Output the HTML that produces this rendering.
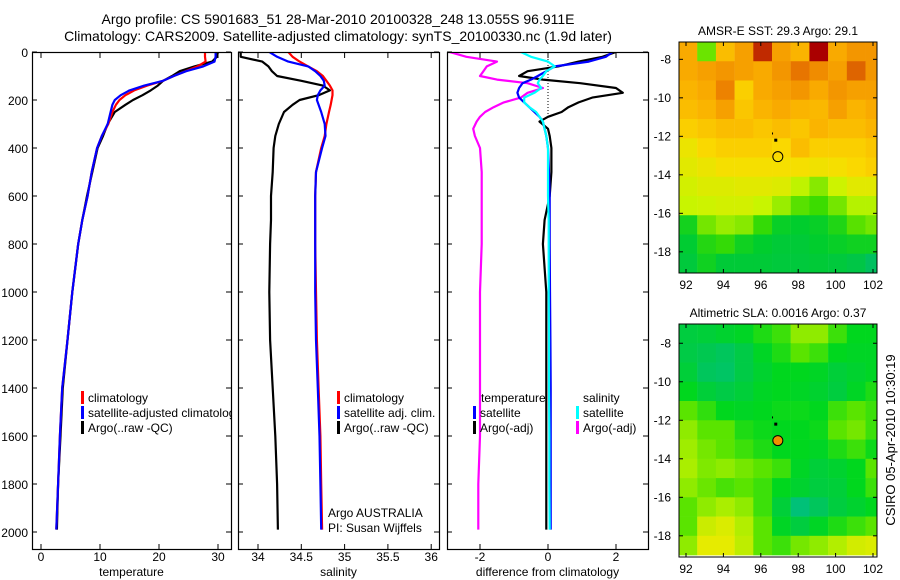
<!DOCTYPE html>
<html><head><meta charset="utf-8"><style>
html,body{margin:0;padding:0;background:#fff;}
svg{display:block;font-family:"Liberation Sans",sans-serif;}
</style></head><body>
<svg id="fig" width="900" height="580" viewBox="0 0 900 580">
<text x="338" y="24" font-size="14" text-anchor="middle">Argo profile: CS 5901683_51 28-Mar-2010 20100328_248 13.055S 96.911E</text>
<text x="338" y="41" font-size="14" text-anchor="middle">Climatology: CARS2009. Satellite-adjusted climatology: synTS_20100330.nc (1.9d later)</text>
<defs>
<clipPath id="c1"><rect x="33" y="53" width="198" height="496"/></clipPath>
<clipPath id="c2"><rect x="239" y="53" width="200" height="496"/></clipPath>
<clipPath id="c3"><rect x="448" y="53" width="200" height="496"/></clipPath>
<clipPath id="m1"><rect x="679" y="42" width="198" height="231"/></clipPath>
<clipPath id="m2"><rect x="679" y="324" width="198" height="233"/></clipPath>
</defs>
<g id="g1"></g>
<g id="g2"></g>
<g id="g3"></g>
<g id="gm1"></g>
<g id="gm2"></g>
<text x="895" y="440" font-size="13" text-anchor="middle" transform="rotate(-90 895 440)">CSIRO 05-Apr-2010 10:30:19</text>
</svg>
<script>
// ---- profile data ----
const depthT = [0,20,40,60,80,100,120,140,160,180,200,220,250,300,350,400,500,600,700,800,1000,1200,1400,1600,1800,1990];
const tempClim = [27.8,27.8,27.9,26.5,24.5,22.5,20.7,18.0,15.8,14.3,13.3,12.7,12.1,11.4,10.3,9.5,8.6,7.9,7.0,6.3,5.3,4.5,3.6,3.2,2.9,2.6];
const tempSat = [29.6,29.6,29.4,27.5,24.6,22.5,20.7,17.5,15.0,13.5,12.5,12.1,11.8,11.3,10.3,9.5,8.6,7.9,7.0,6.3,5.3,4.5,3.6,3.2,2.9,2.6];
const tempArgo = [30.0,29.8,29.0,26.0,23.5,22.2,20.7,19.8,18.6,17.2,15.6,14.3,12.5,11.3,10.5,9.6,8.7,7.8,7.0,6.3,5.3,4.5,3.7,3.3,2.9,2.7];
const salClim = [34.35,34.40,34.48,34.58,34.68,34.75,34.79,34.83,34.86,34.86,34.85,34.84,34.82,34.79,34.77,34.73,34.67,34.66,34.66,34.66,34.67,34.68,34.70,34.72,34.73,34.74];
const salSat = [34.13,34.22,34.35,34.58,34.66,34.72,34.76,34.77,34.72,34.69,34.68,34.70,34.73,34.77,34.78,34.74,34.67,34.66,34.66,34.66,34.66,34.67,34.69,34.71,34.72,34.73];
const salArgo = [33.8,33.8,34.05,34.12,34.16,34.22,34.5,34.75,34.83,34.70,34.48,34.40,34.30,34.24,34.20,34.18,34.17,34.15,34.15,34.14,34.13,34.14,34.17,34.20,34.22,34.23];
const depthD = [0,20,40,60,80,100,115,130,150,170,190,210,230,250,270,290,320,350,400,500,600,700,800,1000,1200,1400,1600,1800,1990];
const dTempSat = [1.9,1.7,1.2,0.2,-0.05,-0.3,-0.5,-0.75,-0.85,-0.9,-0.85,-0.7,-0.55,-0.4,-0.25,-0.15,-0.1,-0.05,0,0.03,0.05,0.05,0.05,0.06,0.07,0.08,0.08,0.08,0.08];
const dSalSat = [-0.8,-0.5,0,0.2,-0.05,-0.15,-0.25,-0.3,-0.2,-0.4,-0.7,-0.7,-0.55,-0.35,-0.25,-0.15,-0.1,-0.05,0,0,0,0.02,0.02,0.02,0.03,0.03,0.04,0.04,0.05];
const dTempArgo = [2.0,1.6,0.9,0.3,-0.6,-0.85,-0.15,0.95,2.0,2.2,1.3,0.9,0.6,0.4,0.0,-0.25,0.0,0.05,0.1,0.1,0.05,-0.1,-0.15,-0.05,-0.05,-0.05,-0.05,-0.05,-0.05];
const dSalArgo = [-2.9,-2.4,-1.5,-1.8,-1.9,-2.0,-1.5,-0.6,-0.15,-0.6,-0.8,-1.3,-1.6,-1.85,-2.0,-2.1,-2.2,-2.15,-2.0,-1.95,-1.95,-1.95,-1.95,-2.0,-2.0,-2.0,-2.0,-2.05,-2.05];
const depthTicks = [0,200,400,600,800,1000,1200,1400,1600,1800,2000];
const tempTicks = [0,10,20,30];
const salTicks = [34,34.5,35,35.5,36];
const diffTicks = [-2,0,2];
// ---- map data ----
const lonTicks = [92,94,96,98,100,102];
const latTicks = [-8,-10,-12,-14,-16,-18];
const sstGrid = [
[.66,.35,.62,.68,.85,.68,.64,.90,.66,.70,.70],
[.66,.68,.70,.68,.66,.70,.76,.72,.68,.78,.70],
[.64,.66,.74,.58,.66,.68,.70,.66,.70,.68,.68],
[.62,.64,.68,.60,.64,.66,.64,.63,.68,.64,.66],
[.58,.60,.62,.62,.60,.62,.60,.64,.62,.62,.64],
[.52,.56,.58,.58,.58,.56,.62,.58,.58,.58,.60],
[.50,.52,.54,.54,.54,.54,.54,.53,.54,.56,.58],
[.47,.49,.49,.50,.50,.49,.44,.38,.46,.50,.50],
[.45,.46,.47,.47,.45,.40,.33,.30,.36,.43,.43],
[.20,.36,.40,.38,.28,.17,.15,.17,.23,.33,.36],
[.14,.24,.28,.19,.15,.13,.13,.15,.17,.19,.19],
[.12,.19,.13,.13,.13,.12,.12,.13,.12,.10,.05]];
const slaGrid = [
[.20,.22,.25,.28,.35,.40,.55,.55,.40,.30,.30],
[.18,.15,.12,.18,.28,.35,.45,.40,.30,.28,.28],
[.22,.12,.10,.18,.25,.30,.30,.28,.22,.25,.28],
[.30,.22,.18,.22,.28,.30,.28,.25,.20,.28,.35],
[.45,.38,.30,.28,.30,.32,.32,.30,.40,.45,.40],
[.55,.45,.45,.35,.32,.30,.30,.32,.45,.50,.40],
[.58,.50,.45,.40,.35,.30,.30,.28,.35,.40,.32],
[.60,.52,.55,.50,.45,.40,.28,.22,.25,.30,.45],
[.55,.48,.42,.45,.40,.30,.25,.20,.22,.30,.40],
[.45,.55,.60,.55,.40,.22,.05,.12,.20,.25,.30],
[.45,.68,.72,.62,.45,.28,.20,.28,.35,.40,.45],
[.55,.75,.75,.65,.45,.40,.50,.55,.62,.70,.72]];
const argoLon = 96.911, argoLat = -13.055;

const NS='http://www.w3.org/2000/svg';
function mk(tag, attrs, parent){const e=document.createElementNS(NS,tag);for(const k in attrs)e.setAttribute(k,attrs[k]);parent.appendChild(e);return e;}
const yD = d => 52 + d*0.24;

function panel(gid, x0, x1, xs, ticks, fmt, label, clip, yLabels){
  const g=document.getElementById(gid);
  const fr=mk('rect',{x:x0+0.5,y:52.5,width:x1-x0,height:497,fill:'none',stroke:'#000','stroke-width':1.2},g);
  
  
  depthTicks.forEach(d=>{
    const y=yD(d);
    mk('line',{x1:x0,y1:y,x2:x0+5,y2:y,stroke:'#000'},g);
    mk('line',{x1:x1,y1:y,x2:x1-5,y2:y,stroke:'#000'},g);
    if(yLabels){const t=mk('text',{x:x0-4,y:y+5,'font-size':12,'text-anchor':'end'},g);t.textContent=d;
      
      }
  });
  ticks.forEach(v=>{
    const x=xs(v);
    mk('line',{x1:x,y1:53,x2:x,y2:58,stroke:'#000'},g);
    mk('line',{x1:x,y1:549,x2:x,y2:544,stroke:'#000'},g);
    const t=mk('text',{x:x,y:561,'font-size':12,'text-anchor':'middle'},g);t.textContent=fmt(v);
    
    
  });
  const l=mk('text',{x:(x0+x1)/2,y:576,'font-size':12,'text-anchor':'middle'},g);l.textContent=label;
  
  
  const cg=mk('g',{'clip-path':'url(#'+clip+')'},g);
  return cg;
}
function line(g, depths, vals, xs, color, w, name){
  const p=depths.map((d,i)=>xs(vals[i]).toFixed(1)+','+yD(d).toFixed(1)).join(' ');
  const e=mk('polyline',{points:p,fill:'none',stroke:color,'stroke-width':w,'stroke-linejoin':'round'},g);
  
  
}
function legend(g, x, y, color, text, name){
  if(color) mk('rect',{x:x,y:y-11,width:3,height:13,fill:color},g);
  const t=mk('text',{x:x+7,y:y,'font-size':12},g);t.textContent=text;
  
  
}
// Panel 1
const xT = v => 41 + v*5.9;
let c=panel('g1',32,231,xT,tempTicks,v=>v,'temperature','c1',true);
line(c,depthT,tempArgo,xT,'#000',2.2,'argo-temperature-line');
line(c,depthT,tempClim,xT,'#f00',2.2,'climatology-temperature-line');
line(c,depthT,tempSat,xT,'#00f',2.2,'satellite-temperature-line');
legend(c,81,402,'#f00','climatology','legend-climatology');
legend(c,81,417,'#00f','satellite-adjusted climatology','legend-satellite-adjusted');
legend(c,81,432,'#000','Argo(..raw -QC)','legend-argo');
// Panel 2
const xS = v => 258 + (v-34)*86.6;
c=panel('g2',238,439,xS,salTicks,v=>v,'salinity','c2',false);
line(c,depthT,salArgo,xS,'#000',2.2,'argo-salinity-line');
line(c,depthT,salClim,xS,'#f00',2.2,'climatology-salinity-line');
line(c,depthT,salSat,xS,'#00f',2.2,'satellite-salinity-line');
legend(c,337,402,'#f00','climatology','legend-climatology-sal');
legend(c,337,417,'#00f','satellite adj. clim.','legend-satellite-sal');
legend(c,337,432,'#000','Argo(..raw -QC)','legend-argo-sal');
legend(c,321,517,null,'Argo AUSTRALIA','argo-australia-note');
legend(c,321,532,null,'PI: Susan Wijffels','pi-note');
// Panel 3
const xD = v => 548 + v*34;
c=panel('g3',447,648,xD,diffTicks,v=>v,'difference from climatology','c3',false);
mk('line',{x1:xD(0),y1:53,x2:xD(0),y2:yD(260),stroke:'#000','stroke-dasharray':'1,2'},c);
line(c,depthD,dSalArgo,xD,'#f0f',2.2,'argo-salinity-diff-line');
line(c,depthD,dTempArgo,xD,'#000',2.2,'argo-temperature-diff-line');
line(c,depthD,dTempSat,xD,'#00f',2.2,'satellite-temperature-diff-line');
line(c,depthD,dSalSat,xD,'#0ff',2.2,'satellite-salinity-diff-line');
legend(c,474,402,null,'temperature','legend-temperature-header');
legend(c,576,402,null,'salinity','legend-salinity-header');
legend(c,473,417,'#00f','satellite','legend-temp-satellite');
legend(c,473,432,'#000','Argo(-adj)','legend-temp-argo');
legend(c,576,417,'#0ff','satellite','legend-sal-satellite');
legend(c,576,432,'#f0f','Argo(-adj)','legend-sal-argo');

// ---- maps ----
const stops=[[0,[0,185,120]],[0.15,[0,205,45]],[0.3,[60,220,0]],[0.45,[200,245,0]],[0.55,[250,220,0]],[0.65,[250,175,0]],[0.75,[235,125,0]],[0.9,[170,0,0]],[1,[150,0,0]]];
const slaStops=[[0,[0,190,140]],[0.15,[0,200,80]],[0.3,[0,215,30]],[0.45,[90,228,0]],[0.6,[170,238,0]],[0.75,[230,235,0]],[1,[250,200,0]]];
function cmapWith(st,v){for(let i=1;i<st.length;i++){if(v<=st[i][0]){const a=st[i-1],b=st[i],t=(v-a[0])/(b[0]-a[0]);
  return 'rgb('+a[1].map((x,k)=>Math.round(x+(b[1][k]-x)*t)).join(',')+')';}}const l=st[st.length-1][1];return 'rgb('+l.join(',')+')';}
function map(gid, top, bottom, latTop, latBot, grid, title, clip, filled, st){
  const g=document.getElementById(gid);
  const xL = lon => 686 + (lon-92)*18.7;
  const yL = lat => top + (latTop-lat)*(bottom-top)/(latTop-latBot);
  const cg=mk('g',{'clip-path':'url(#'+clip+')'},g);
  grid.forEach((row,r)=>row.forEach((v,k)=>{
    const lon0=91.6+k, lat0=latTop-r;
    const e=mk('rect',{x:xL(lon0),y:yL(lat0),width:18.9,height:(bottom-top)/(latTop-latBot)+0.3,fill:cmapWith(st,v)},cg);
    
    
  }));
  mk('rect',{x:679,y:top,width:198,height:bottom-top,fill:'none',stroke:'#000'},g);
  lonTicks.forEach(l=>{const x=xL(l);
    mk('line',{x1:x,y1:top,x2:x,y2:top+4,stroke:'#000'},g);
    mk('line',{x1:x,y1:bottom,x2:x,y2:bottom-4,stroke:'#000'},g);
    const t=mk('text',{x:x,y:bottom+16,'font-size':12,'text-anchor':'middle'},g);t.textContent=l;
    
    });
  latTicks.forEach(l=>{const y=yL(l);
    mk('line',{x1:679,y1:y,x2:683,y2:y,stroke:'#000'},g);
    mk('line',{x1:877,y1:y,x2:873,y2:y,stroke:'#000'},g);
    const t=mk('text',{x:671,y:y+4,'font-size':12,'text-anchor':'end'},g);t.textContent=l;
    
    });
  const tt=mk('text',{x:778,y:top-7,'font-size':12,'text-anchor':'middle'},g);tt.textContent=title;
  
  
  mk('rect',{x:xL(96.8)-1.5,y:yL(-12.2)-1.5,width:3,height:3,fill:'#000'},g);
  mk('rect',{x:xL(96.6),y:yL(-11.8),width:1,height:2,fill:'#000'},g);
  const m=mk('circle',{cx:xL(argoLon),cy:yL(argoLat),r:5,fill:filled?'#f09000':'none',stroke:'#000','stroke-width':1},g);
  
  
}
map('gm1',42,273,-7.1,-19.1,sstGrid,'AMSR-E SST: 29.3 Argo: 29.1','m1',false,stops);
map('gm2',324,557,-7.0,-19.1,slaGrid,'Altimetric SLA: 0.0016 Argo: 0.37','m2',true,slaStops);
</script>
</body></html>
